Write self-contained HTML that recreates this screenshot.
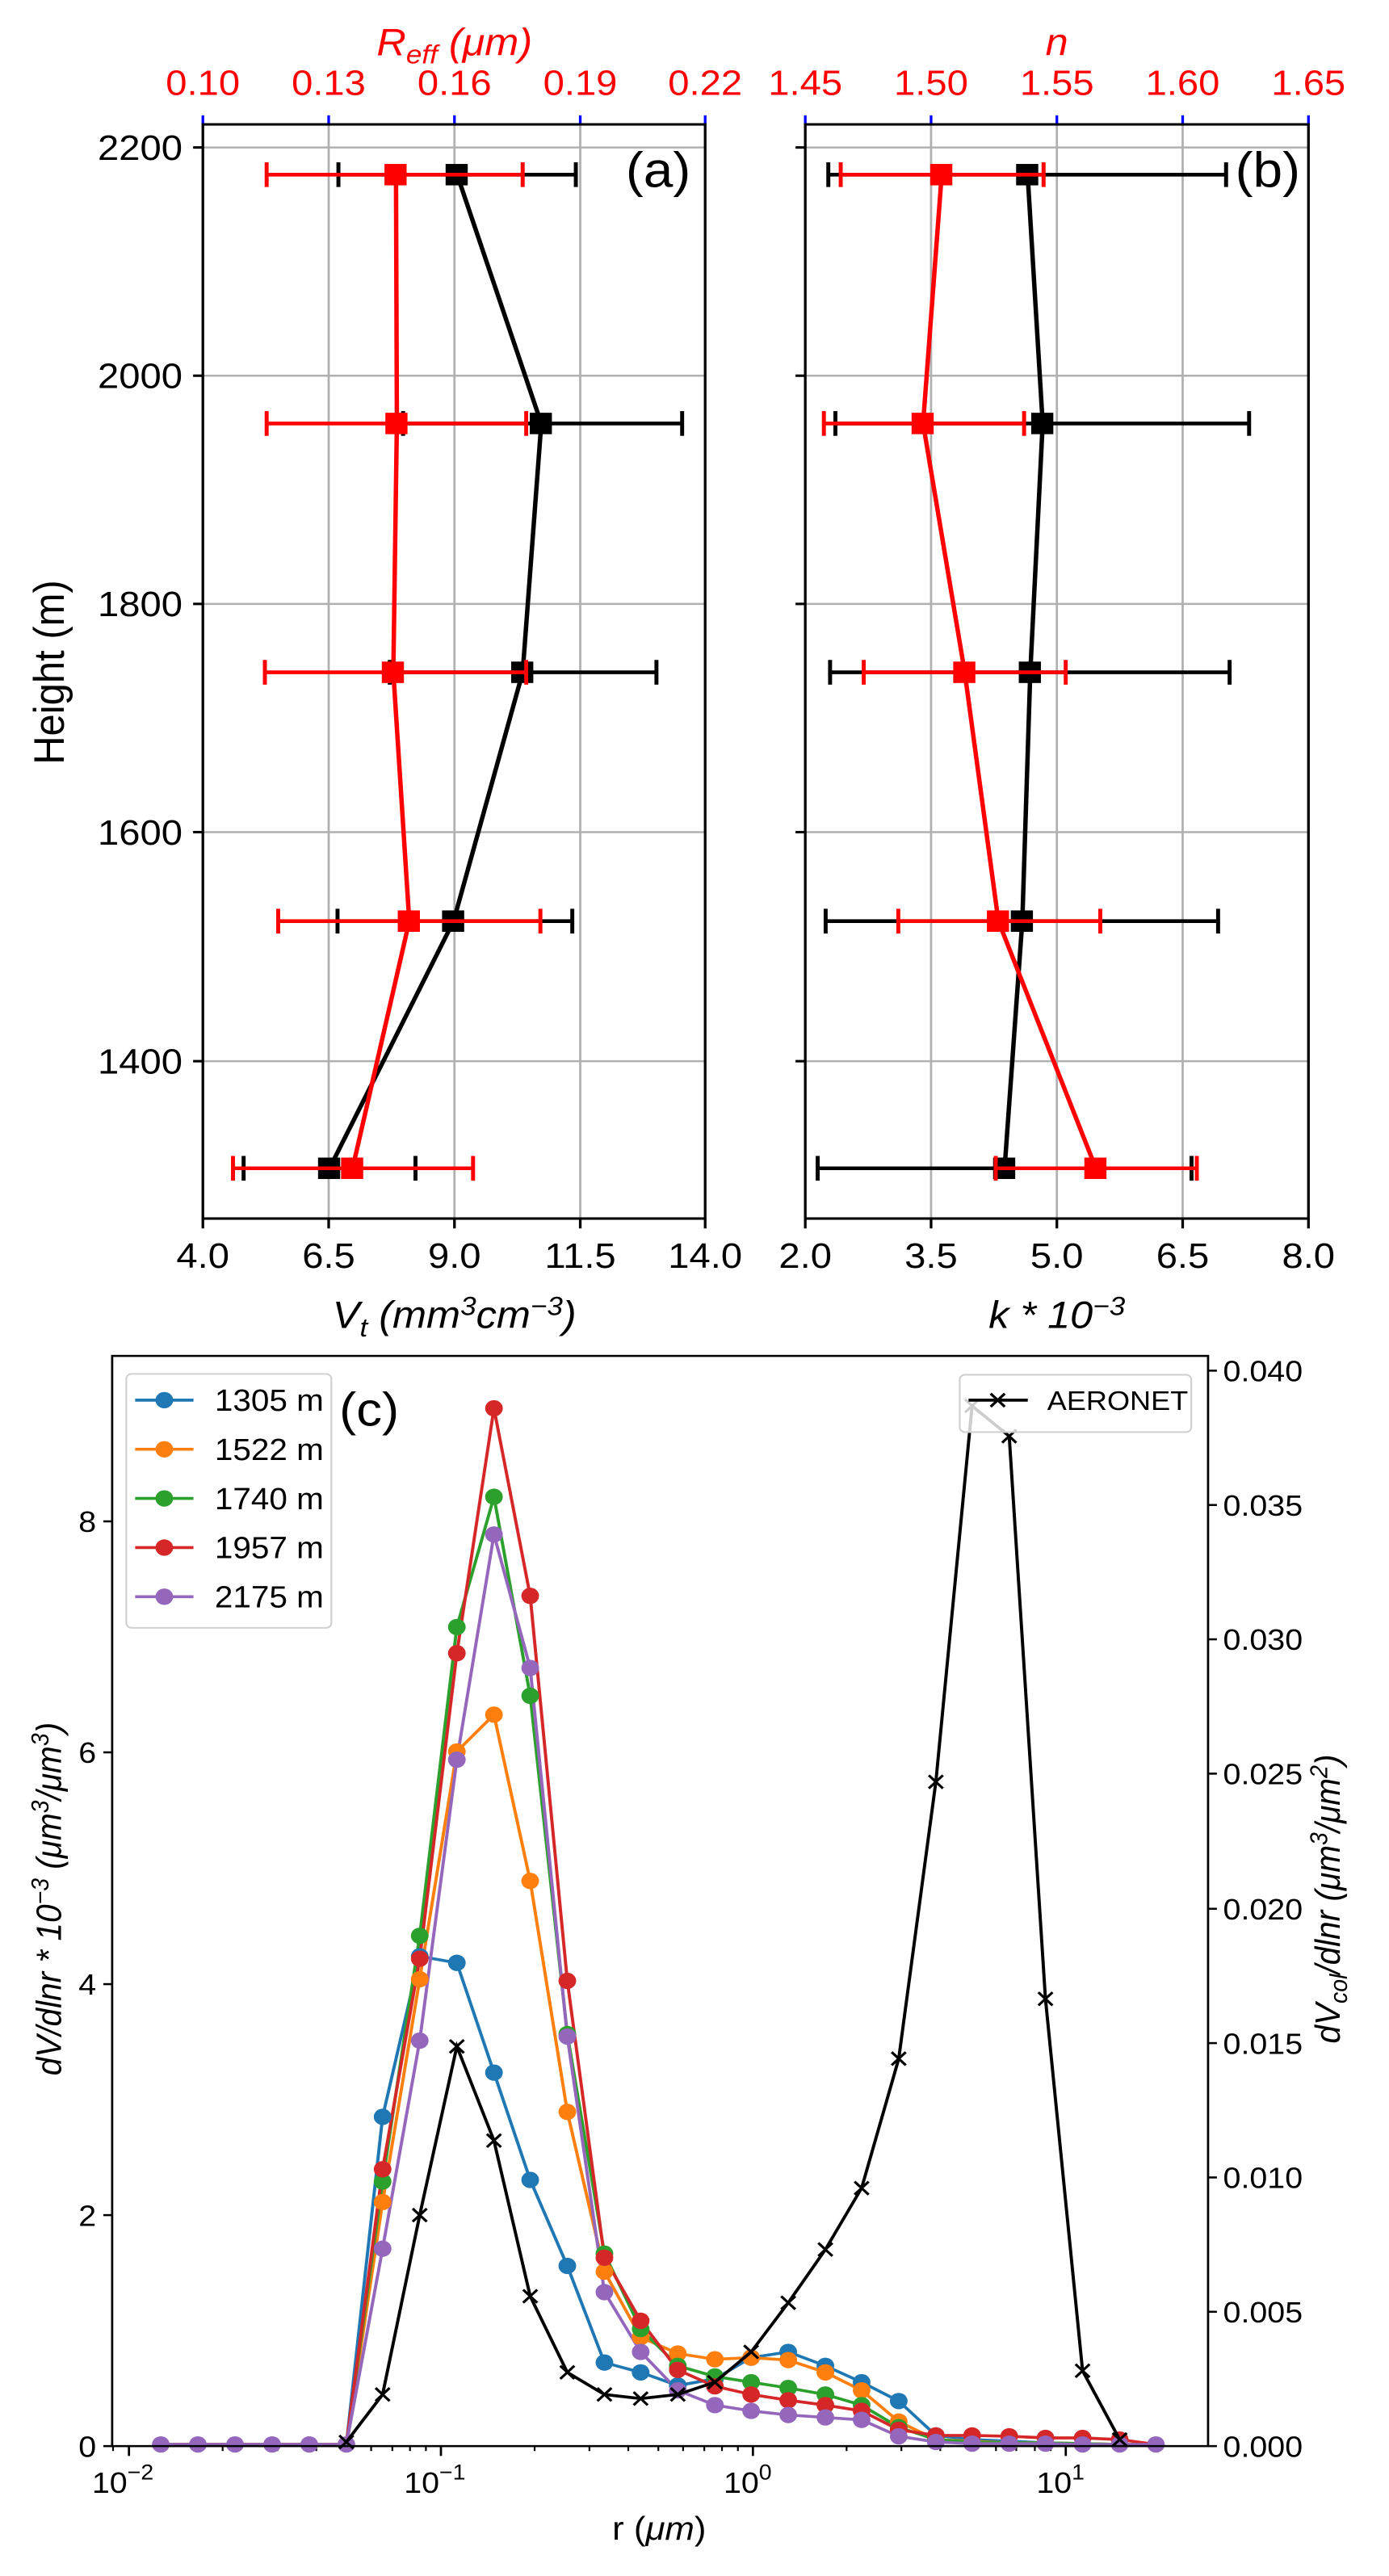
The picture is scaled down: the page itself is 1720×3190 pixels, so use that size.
<!DOCTYPE html>
<html><head><meta charset="utf-8"><style>
html,body{margin:0;padding:0;background:#fff;}
svg{display:block;}
text{font-family:"Liberation Sans","DejaVu Sans",sans-serif;}
</style></head><body>
<svg width="1720" height="3190" viewBox="0 0 1720 3190" xmlns="http://www.w3.org/2000/svg">
<rect width="1720" height="3190" fill="#fff"/>
<g transform="matrix(1.097 0 0 1.0203 0 1)">
  <g stroke="#b0b0b0" stroke-width="2.5">
    <line x1="371" y1="150" x2="371" y2="1478"/><line x1="513" y1="150" x2="513" y2="1478"/><line x1="655" y1="150" x2="655" y2="1478"/>
    <line x1="1051" y1="150" x2="1051" y2="1478"/><line x1="1193" y1="150" x2="1193" y2="1478"/><line x1="1335" y1="150" x2="1335" y2="1478"/>
    <line x1="229" y1="178" x2="796" y2="178"/><line x1="229" y1="455" x2="796" y2="455"/><line x1="229" y1="732" x2="796" y2="732"/><line x1="229" y1="1009" x2="796" y2="1009"/><line x1="229" y1="1287" x2="796" y2="1287"/>
    <line x1="909" y1="178" x2="1477" y2="178"/><line x1="909" y1="455" x2="1477" y2="455"/><line x1="909" y1="732" x2="1477" y2="732"/><line x1="909" y1="1009" x2="1477" y2="1009"/><line x1="909" y1="1287" x2="1477" y2="1287"/>
  </g>
  <g stroke="#000" stroke-width="3">
    <line x1="218" y1="178" x2="229" y2="178"/><line x1="218" y1="455" x2="229" y2="455"/><line x1="218" y1="732" x2="229" y2="732"/><line x1="218" y1="1009" x2="229" y2="1009"/><line x1="218" y1="1287" x2="229" y2="1287"/>
    <line x1="898" y1="178" x2="909" y2="178"/><line x1="898" y1="455" x2="909" y2="455"/><line x1="898" y1="732" x2="909" y2="732"/><line x1="898" y1="1009" x2="909" y2="1009"/><line x1="898" y1="1287" x2="909" y2="1287"/>
    <line x1="229" y1="1478" x2="229" y2="1490"/><line x1="371" y1="1478" x2="371" y2="1490"/><line x1="513" y1="1478" x2="513" y2="1490"/><line x1="655" y1="1478" x2="655" y2="1490"/><line x1="796" y1="1478" x2="796" y2="1490"/>
    <line x1="909" y1="1478" x2="909" y2="1490"/><line x1="1051" y1="1478" x2="1051" y2="1490"/><line x1="1193" y1="1478" x2="1193" y2="1490"/><line x1="1335" y1="1478" x2="1335" y2="1490"/><line x1="1477" y1="1478" x2="1477" y2="1490"/>
  </g>
  <g stroke="#0000ff" stroke-width="3">
    <line x1="229" y1="139" x2="229" y2="150"/><line x1="371" y1="139" x2="371" y2="150"/><line x1="513" y1="139" x2="513" y2="150"/><line x1="655" y1="139" x2="655" y2="150"/><line x1="796" y1="139" x2="796" y2="150"/>
    <line x1="909" y1="139" x2="909" y2="150"/><line x1="1051" y1="139" x2="1051" y2="150"/><line x1="1193" y1="139" x2="1193" y2="150"/><line x1="1335" y1="139" x2="1335" y2="150"/><line x1="1477" y1="139" x2="1477" y2="150"/>
  </g>
  <g stroke="#000" stroke-width="4.5" fill="none">
    <polyline stroke-width="5" points="516,211 611,513 590,815 512,1117 372,1417"/>
    <line x1="382" y1="211" x2="650" y2="211"/><line x1="382" y1="196" x2="382" y2="226"/><line x1="650" y1="196" x2="650" y2="226"/>
    <line x1="455" y1="513" x2="770" y2="513"/><line x1="455" y1="498" x2="455" y2="528"/><line x1="770" y1="498" x2="770" y2="528"/>
    <line x1="440" y1="815" x2="741" y2="815"/><line x1="440" y1="800" x2="440" y2="830"/><line x1="741" y1="800" x2="741" y2="830"/>
    <line x1="381" y1="1117" x2="646" y2="1117"/><line x1="381" y1="1102" x2="381" y2="1132"/><line x1="646" y1="1102" x2="646" y2="1132"/>
    <line x1="275" y1="1417" x2="469" y2="1417"/><line x1="275" y1="1402" x2="275" y2="1432"/><line x1="469" y1="1402" x2="469" y2="1432"/>
  </g>
  <g fill="#000">
    <rect x="503" y="198" width="25" height="26"/><rect x="598" y="500" width="25" height="26"/><rect x="577" y="802" width="25" height="26"/><rect x="499" y="1104" width="25" height="26"/><rect x="359" y="1404" width="25" height="26"/>
  </g>
  <g stroke="#ff0000" stroke-width="4.5" fill="none">
    <polyline stroke-width="5" points="447,211 448,513 444,815 462,1117 398,1417"/>
    <line x1="301" y1="211" x2="590" y2="211"/><line x1="301" y1="196" x2="301" y2="226"/><line x1="590" y1="196" x2="590" y2="226"/>
    <line x1="301" y1="513" x2="594" y2="513"/><line x1="301" y1="498" x2="301" y2="528"/><line x1="594" y1="498" x2="594" y2="528"/>
    <line x1="299" y1="815" x2="594" y2="815"/><line x1="299" y1="800" x2="299" y2="830"/><line x1="594" y1="800" x2="594" y2="830"/>
    <line x1="314" y1="1117" x2="610" y2="1117"/><line x1="314" y1="1102" x2="314" y2="1132"/><line x1="610" y1="1102" x2="610" y2="1132"/>
    <line x1="263" y1="1417" x2="534" y2="1417"/><line x1="263" y1="1402" x2="263" y2="1432"/><line x1="534" y1="1402" x2="534" y2="1432"/>
  </g>
  <g fill="#ff0000">
    <rect x="434" y="198" width="25" height="26"/><rect x="435" y="500" width="25" height="26"/><rect x="431" y="802" width="25" height="26"/><rect x="449" y="1104" width="25" height="26"/><rect x="385" y="1404" width="25" height="26"/>
  </g>
  <g stroke="#000" stroke-width="4.5" fill="none">
    <polyline stroke-width="5" points="1160,211 1177,513 1163,815 1154,1117 1134,1417"/>
    <line x1="935" y1="211" x2="1384" y2="211"/><line x1="935" y1="196" x2="935" y2="226"/><line x1="1384" y1="196" x2="1384" y2="226"/>
    <line x1="943" y1="513" x2="1410" y2="513"/><line x1="943" y1="498" x2="943" y2="528"/><line x1="1410" y1="498" x2="1410" y2="528"/>
    <line x1="937" y1="815" x2="1388" y2="815"/><line x1="937" y1="800" x2="937" y2="830"/><line x1="1388" y1="800" x2="1388" y2="830"/>
    <line x1="932" y1="1117" x2="1375" y2="1117"/><line x1="932" y1="1102" x2="932" y2="1132"/><line x1="1375" y1="1102" x2="1375" y2="1132"/>
    <line x1="923" y1="1417" x2="1345" y2="1417"/><line x1="923" y1="1402" x2="923" y2="1432"/><line x1="1345" y1="1402" x2="1345" y2="1432"/>
  </g>
  <g fill="#000">
    <rect x="1147" y="198" width="25" height="26"/><rect x="1164" y="500" width="25" height="26"/><rect x="1150" y="802" width="25" height="26"/><rect x="1141" y="1104" width="25" height="26"/><rect x="1121" y="1404" width="25" height="26"/>
  </g>
  <g stroke="#ff0000" stroke-width="4.5" fill="none">
    <polyline stroke-width="5" points="1063,211 1042,513 1089,815 1127,1117 1237,1417"/>
    <line x1="949" y1="211" x2="1178" y2="211"/><line x1="949" y1="196" x2="949" y2="226"/><line x1="1178" y1="196" x2="1178" y2="226"/>
    <line x1="930" y1="513" x2="1156" y2="513"/><line x1="930" y1="498" x2="930" y2="528"/><line x1="1156" y1="498" x2="1156" y2="528"/>
    <line x1="975" y1="815" x2="1203" y2="815"/><line x1="975" y1="800" x2="975" y2="830"/><line x1="1203" y1="800" x2="1203" y2="830"/>
    <line x1="1014" y1="1117" x2="1242" y2="1117"/><line x1="1014" y1="1102" x2="1014" y2="1132"/><line x1="1242" y1="1102" x2="1242" y2="1132"/>
    <line x1="1124" y1="1417" x2="1351" y2="1417"/><line x1="1124" y1="1402" x2="1124" y2="1432"/><line x1="1351" y1="1402" x2="1351" y2="1432"/>
  </g>
  <g fill="#ff0000">
    <rect x="1050" y="198" width="25" height="26"/><rect x="1029" y="500" width="25" height="26"/><rect x="1076" y="802" width="25" height="26"/><rect x="1114" y="1104" width="25" height="26"/><rect x="1224" y="1404" width="25" height="26"/>
  </g>
  <rect x="229" y="150" width="567" height="1328" fill="none" stroke="#000" stroke-width="3"/>
  <rect x="909" y="150" width="568" height="1328" fill="none" stroke="#000" stroke-width="3"/>
  <g font-size="43" fill="#ff0000" text-anchor="middle">
    <text x="229" y="114">0.10</text><text x="371" y="114">0.13</text><text x="513" y="114">0.16</text><text x="655" y="114">0.19</text><text x="796" y="114">0.22</text>
    <text x="909" y="114">1.45</text><text x="1051" y="114">1.50</text><text x="1193" y="114">1.55</text><text x="1335" y="114">1.60</text><text x="1477" y="114">1.65</text>
    <text x="513" y="66" font-size="46" font-style="italic">R<tspan font-size="32" dy="10">eff</tspan><tspan dy="-10"> (μm)</tspan></text>
    <text x="1193" y="66" font-size="46" font-style="italic">n</text>
  </g>
  <g font-size="43" fill="#000" text-anchor="middle">
    <text x="229" y="1538">4.0</text><text x="371" y="1538">6.5</text><text x="513" y="1538">9.0</text><text x="655" y="1538">11.5</text><text x="796" y="1538">14.0</text>
    <text x="909" y="1538">2.0</text><text x="1051" y="1538">3.5</text><text x="1193" y="1538">5.0</text><text x="1335" y="1538">6.5</text><text x="1477" y="1538">8.0</text>
    <text x="513" y="1611" font-size="46" font-style="italic">V<tspan font-size="32" dy="10">t</tspan><tspan dy="-10"> (mm</tspan><tspan font-size="32" dy="-16">3</tspan><tspan dy="16">cm</tspan><tspan font-size="32" dy="-16">−3</tspan><tspan dy="16">)</tspan></text>
    <text x="1193" y="1611" font-size="46" font-style="italic">k * 10<tspan font-size="32" dy="-16">−3</tspan></text>
  </g>
  <g font-size="43" fill="#000" text-anchor="end">
    <text x="206" y="193">2200</text><text x="206" y="470">2000</text><text x="206" y="747">1800</text><text x="206" y="1024">1600</text><text x="206" y="1302">1400</text>
  </g>
  <text transform="translate(72,815) rotate(-90)" font-size="48" text-anchor="middle" fill="#000">Height (m)</text>
  <text x="743" y="226" font-size="60" text-anchor="middle" fill="#000">(a)</text>
  <text x="1431" y="226" font-size="60" text-anchor="middle" fill="#000">(b)</text>
</g>

<g transform="matrix(1.0944 0 0 1.0143 1 1601)">
  <g stroke="#000" stroke-width="2.5">
    <line x1="126" y1="279" x2="116" y2="279"/><line x1="126" y1="561" x2="116" y2="561"/><line x1="126" y1="844" x2="116" y2="844"/><line x1="126" y1="1126" x2="116" y2="1126"/><line x1="126" y1="1408" x2="116" y2="1408"/>
    <line x1="1366" y1="95" x2="1376" y2="95"/><line x1="1366" y1="259" x2="1376" y2="259"/><line x1="1366" y1="423" x2="1376" y2="423"/><line x1="1366" y1="587" x2="1376" y2="587"/><line x1="1366" y1="752" x2="1376" y2="752"/><line x1="1366" y1="916" x2="1376" y2="916"/><line x1="1366" y1="1080" x2="1376" y2="1080"/><line x1="1366" y1="1244" x2="1376" y2="1244"/><line x1="1366" y1="1408" x2="1376" y2="1408"/>
    <line x1="145" y1="1408" x2="145" y2="1420"/><line x1="498" y1="1408" x2="498" y2="1420"/><line x1="851" y1="1408" x2="851" y2="1420"/><line x1="1205" y1="1408" x2="1205" y2="1420"/>
  </g>
  <g stroke="#000" stroke-width="2">
    <line x1="127" y1="1408" x2="127" y2="1414"/>
    <line x1="251" y1="1408" x2="251" y2="1414"/><line x1="313" y1="1408" x2="313" y2="1414"/><line x1="357" y1="1408" x2="357" y2="1414"/><line x1="391" y1="1408" x2="391" y2="1414"/><line x1="419" y1="1408" x2="419" y2="1414"/><line x1="443" y1="1408" x2="443" y2="1414"/><line x1="463" y1="1408" x2="463" y2="1414"/><line x1="481" y1="1408" x2="481" y2="1414"/>
    <line x1="604" y1="1408" x2="604" y2="1414"/><line x1="666" y1="1408" x2="666" y2="1414"/><line x1="710" y1="1408" x2="710" y2="1414"/><line x1="744" y1="1408" x2="744" y2="1414"/><line x1="772" y1="1408" x2="772" y2="1414"/><line x1="796" y1="1408" x2="796" y2="1414"/><line x1="816" y1="1408" x2="816" y2="1414"/><line x1="834" y1="1408" x2="834" y2="1414"/>
    <line x1="957" y1="1408" x2="957" y2="1414"/><line x1="1019" y1="1408" x2="1019" y2="1414"/><line x1="1063" y1="1408" x2="1063" y2="1414"/><line x1="1098" y1="1408" x2="1098" y2="1414"/><line x1="1126" y1="1408" x2="1126" y2="1414"/><line x1="1149" y1="1408" x2="1149" y2="1414"/><line x1="1170" y1="1408" x2="1170" y2="1414"/><line x1="1188" y1="1408" x2="1188" y2="1414"/>
    <line x1="1311" y1="1408" x2="1311" y2="1414"/>
  </g>
  <g fill="none" stroke-width="3.6">
    <polyline stroke="#1f77b4" points="181,1406 223,1406 265,1406 307,1406 349,1406 391,1406 432,1006 474,810 516,818 558,952 599,1083 641,1188 683,1306 724,1318 766,1334 808,1326 849,1300 891,1293 933,1310 974,1330 1016,1353 1058,1395 1099,1400 1141,1402 1182,1404 1224,1405 1266,1406 1307,1406"/>
    <polyline stroke="#ff7f0e" points="181,1406 223,1406 265,1406 307,1406 349,1406 391,1406 432,1110 474,838 516,560 558,515 599,718 641,1000 683,1195 724,1275 766,1295 808,1302 849,1300 891,1303 933,1318 974,1340 1016,1378 1058,1400 1099,1402 1141,1404 1182,1404 1224,1405 1266,1406 1307,1406"/>
    <polyline stroke="#2ca02c" points="181,1406 223,1406 265,1406 307,1406 349,1406 391,1406 432,1085 474,785 516,408 558,249 599,492 641,905 683,1173 724,1265 766,1310 808,1323 849,1330 891,1337 933,1345 974,1358 1016,1385 1058,1400 1099,1403 1141,1404 1182,1404 1224,1405 1266,1406 1307,1406"/>
    <polyline stroke="#d62728" points="181,1406 223,1406 265,1406 307,1406 349,1406 391,1406 432,1070 474,813 516,440 558,141 599,370 641,840 683,1178 724,1255 766,1315 808,1335 849,1345 891,1352 933,1358 974,1365 1016,1388 1058,1395 1099,1395 1141,1396 1182,1398 1224,1398 1266,1400 1307,1406"/>
    <polyline stroke="#9467bd" points="181,1406 223,1406 265,1406 307,1406 349,1406 391,1406 432,1167 474,913 516,570 558,295 599,458 641,908 683,1220 724,1293 766,1340 808,1358 849,1365 891,1370 933,1373 974,1376 1016,1396 1058,1403 1099,1405 1141,1405 1182,1405 1224,1406 1266,1406 1307,1406"/>
  </g>
  <g fill="#1f77b4"><circle cx="432" cy="1006" r="10"/><circle cx="474" cy="810" r="10"/><circle cx="516" cy="818" r="10"/><circle cx="558" cy="952" r="10"/><circle cx="599" cy="1083" r="10"/><circle cx="641" cy="1188" r="10"/><circle cx="683" cy="1306" r="10"/><circle cx="724" cy="1318" r="10"/><circle cx="766" cy="1334" r="10"/><circle cx="808" cy="1326" r="10"/><circle cx="849" cy="1300" r="10"/><circle cx="891" cy="1293" r="10"/><circle cx="933" cy="1310" r="10"/><circle cx="974" cy="1330" r="10"/><circle cx="1016" cy="1353" r="10"/><circle cx="1058" cy="1395" r="10"/></g>
  <g fill="#ff7f0e"><circle cx="432" cy="1110" r="10"/><circle cx="474" cy="838" r="10"/><circle cx="516" cy="560" r="10"/><circle cx="558" cy="515" r="10"/><circle cx="599" cy="718" r="10"/><circle cx="641" cy="1000" r="10"/><circle cx="683" cy="1195" r="10"/><circle cx="724" cy="1275" r="10"/><circle cx="766" cy="1295" r="10"/><circle cx="808" cy="1302" r="10"/><circle cx="849" cy="1300" r="10"/><circle cx="891" cy="1303" r="10"/><circle cx="933" cy="1318" r="10"/><circle cx="974" cy="1340" r="10"/><circle cx="1016" cy="1378" r="10"/><circle cx="1058" cy="1400" r="10"/></g>
  <g fill="#2ca02c"><circle cx="432" cy="1085" r="10"/><circle cx="474" cy="785" r="10"/><circle cx="516" cy="408" r="10"/><circle cx="558" cy="249" r="10"/><circle cx="599" cy="492" r="10"/><circle cx="641" cy="905" r="10"/><circle cx="683" cy="1173" r="10"/><circle cx="724" cy="1265" r="10"/><circle cx="766" cy="1310" r="10"/><circle cx="808" cy="1323" r="10"/><circle cx="849" cy="1330" r="10"/><circle cx="891" cy="1337" r="10"/><circle cx="933" cy="1345" r="10"/><circle cx="974" cy="1358" r="10"/><circle cx="1016" cy="1385" r="10"/><circle cx="1058" cy="1400" r="10"/></g>
  <g fill="#d62728"><circle cx="432" cy="1070" r="10"/><circle cx="474" cy="813" r="10"/><circle cx="516" cy="440" r="10"/><circle cx="558" cy="141" r="10"/><circle cx="599" cy="370" r="10"/><circle cx="641" cy="840" r="10"/><circle cx="683" cy="1178" r="10"/><circle cx="724" cy="1255" r="10"/><circle cx="766" cy="1315" r="10"/><circle cx="808" cy="1335" r="10"/><circle cx="849" cy="1345" r="10"/><circle cx="891" cy="1352" r="10"/><circle cx="933" cy="1358" r="10"/><circle cx="974" cy="1365" r="10"/><circle cx="1016" cy="1388" r="10"/><circle cx="1058" cy="1395" r="10"/><circle cx="1099" cy="1395" r="10"/><circle cx="1141" cy="1396" r="10"/><circle cx="1182" cy="1398" r="10"/><circle cx="1224" cy="1398" r="10"/><circle cx="1266" cy="1400" r="10"/></g>
  <g fill="#9467bd"><circle cx="181" cy="1406" r="10"/><circle cx="223" cy="1406" r="10"/><circle cx="265" cy="1406" r="10"/><circle cx="307" cy="1406" r="10"/><circle cx="349" cy="1406" r="10"/><circle cx="391" cy="1406" r="10"/><circle cx="432" cy="1167" r="10"/><circle cx="474" cy="913" r="10"/><circle cx="516" cy="570" r="10"/><circle cx="558" cy="295" r="10"/><circle cx="599" cy="458" r="10"/><circle cx="641" cy="908" r="10"/><circle cx="683" cy="1220" r="10"/><circle cx="724" cy="1293" r="10"/><circle cx="766" cy="1340" r="10"/><circle cx="808" cy="1358" r="10"/><circle cx="849" cy="1365" r="10"/><circle cx="891" cy="1370" r="10"/><circle cx="933" cy="1373" r="10"/><circle cx="974" cy="1376" r="10"/><circle cx="1016" cy="1396" r="10"/><circle cx="1058" cy="1403" r="10"/><circle cx="1099" cy="1405" r="10"/><circle cx="1141" cy="1405" r="10"/><circle cx="1182" cy="1405" r="10"/><circle cx="1224" cy="1406" r="10"/><circle cx="1266" cy="1406" r="10"/><circle cx="1307" cy="1406" r="10"/></g>
  <polyline fill="none" stroke="#000" stroke-width="3.6" points="391,1403 432,1345 474,1126 516,920 558,1035 599,1225 641,1318 683,1345 724,1350 766,1345 808,1330 849,1293 891,1233 933,1168 974,1093 1016,935 1058,597 1099,138 1141,175 1182,862 1224,1316 1266,1400"/>
  <path fill="none" stroke="#000" stroke-width="3" d="M383,1395l16,16m0,-16l-16,16 M424,1337l16,16m0,-16l-16,16 M466,1118l16,16m0,-16l-16,16 M508,912l16,16m0,-16l-16,16 M550,1027l16,16m0,-16l-16,16 M591,1217l16,16m0,-16l-16,16 M633,1310l16,16m0,-16l-16,16 M675,1337l16,16m0,-16l-16,16 M716,1342l16,16m0,-16l-16,16 M758,1337l16,16m0,-16l-16,16 M800,1322l16,16m0,-16l-16,16 M841,1285l16,16m0,-16l-16,16 M883,1225l16,16m0,-16l-16,16 M925,1160l16,16m0,-16l-16,16 M966,1085l16,16m0,-16l-16,16 M1008,927l16,16m0,-16l-16,16 M1050,589l16,16m0,-16l-16,16 M1091,130l16,16m0,-16l-16,16 M1133,167l16,16m0,-16l-16,16 M1174,854l16,16m0,-16l-16,16 M1216,1308l16,16m0,-16l-16,16 M1258,1392l16,16m0,-16l-16,16"/>
  <rect x="126" y="77" width="1240" height="1331" fill="none" stroke="#000" stroke-width="2.5"/>
  <rect x="142" y="99" width="232" height="310" rx="6" fill="#fff" fill-opacity="0.8" stroke="#d0d0d0" stroke-width="2"/>
  <g stroke-width="3.6">
    <line x1="152" y1="131" x2="218" y2="131" stroke="#1f77b4"/><circle cx="185" cy="131" r="10" fill="#1f77b4"/>
    <line x1="152" y1="191" x2="218" y2="191" stroke="#ff7f0e"/><circle cx="185" cy="191" r="10" fill="#ff7f0e"/>
    <line x1="152" y1="251" x2="218" y2="251" stroke="#2ca02c"/><circle cx="185" cy="251" r="10" fill="#2ca02c"/>
    <line x1="152" y1="311" x2="218" y2="311" stroke="#d62728"/><circle cx="185" cy="311" r="10" fill="#d62728"/>
    <line x1="152" y1="371" x2="218" y2="371" stroke="#9467bd"/><circle cx="185" cy="371" r="10" fill="#9467bd"/>
  </g>
  <g font-size="37" fill="#000">
    <text x="242" y="144">1305 m</text><text x="242" y="204">1522 m</text><text x="242" y="264">1740 m</text><text x="242" y="324">1957 m</text><text x="242" y="384">2175 m</text>
  </g>
  <text x="383" y="162" font-size="58" fill="#000">(c)</text>
  <rect x="1085" y="100" width="262" height="70" rx="6" fill="#fff" fill-opacity="0.8" stroke="#d0d0d0" stroke-width="2"/>
  <line x1="1095" y1="131" x2="1162" y2="131" stroke="#000" stroke-width="3.6"/>
  <path d="M1120,123l16,16m0,-16l-16,16" stroke="#000" stroke-width="3"/>
  <text x="1184" y="143" font-size="33" fill="#000">AERONET</text>
  <g font-size="36" fill="#000" text-anchor="end">
    <text x="108" y="292">8</text><text x="108" y="574">6</text><text x="108" y="857">4</text><text x="108" y="1139">2</text><text x="108" y="1421">0</text>
  </g>
  <g font-size="36" fill="#000">
    <text x="1383" y="108">0.040</text><text x="1383" y="272">0.035</text><text x="1383" y="436">0.030</text><text x="1383" y="600">0.025</text><text x="1383" y="765">0.020</text><text x="1383" y="929">0.015</text><text x="1383" y="1093">0.010</text><text x="1383" y="1257">0.005</text><text x="1383" y="1421">0.000</text>
  </g>
  <g font-size="36" fill="#000" text-anchor="middle">
    <text x="138" y="1465">10<tspan font-size="26" dy="-16">−2</tspan></text>
    <text x="491" y="1465">10<tspan font-size="26" dy="-16">−1</tspan></text>
    <text x="845" y="1465">10<tspan font-size="26" dy="-16">0</tspan></text>
    <text x="1199" y="1465">10<tspan font-size="26" dy="-16">1</tspan></text>
    <text x="745" y="1522" font-size="40">r (<tspan font-style="italic">μm</tspan>)</text>
  </g>
  <text transform="translate(68,740) rotate(-90)" font-size="40" text-anchor="middle" fill="#000" font-style="italic">dV/dlnr * 10<tspan font-size="28" dy="-14">−3</tspan><tspan dy="14"> (μm</tspan><tspan font-size="28" dy="-14">3</tspan><tspan dy="14">/μm</tspan><tspan font-size="28" dy="-14">3</tspan><tspan dy="14">)</tspan></text>
  <text transform="translate(1515,740) rotate(-90)" font-size="40" text-anchor="middle" fill="#000" font-style="italic">dV<tspan font-size="28" dy="8">col</tspan><tspan dy="-8">/dlnr (μm</tspan><tspan font-size="28" dy="-14">3</tspan><tspan dy="14">/μm</tspan><tspan font-size="28" dy="-14">2</tspan><tspan dy="14">)</tspan></text>
</g>
</svg>
</body></html>
